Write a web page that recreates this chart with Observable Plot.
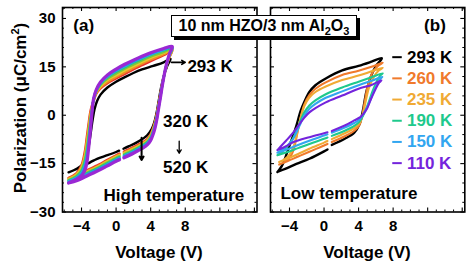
<!DOCTYPE html>
<html><head><meta charset="utf-8">
<script src="https://cdn.jsdelivr.net/npm/d3@7"></script>
<script src="https://cdn.jsdelivr.net/npm/@observablehq/plot@0.6"></script>
<style>
body{margin:0;background:#fff;}
#wrap{position:relative;width:473px;height:267px;overflow:hidden;font-family:"Liberation Sans",Arial,sans-serif;font-weight:bold;color:#000;background:#fff;}
#wrap svg{position:absolute;left:0;top:0;}
.lbl{position:absolute;white-space:nowrap;font-size:17px;line-height:1;transform:translate(-50%,-50%);}
.ylab{position:absolute;white-space:nowrap;font-size:17px;line-height:1;left:20px;top:108px;transform:translate(-50%,-50%) rotate(-90deg);}
.ylab sup{font-size:11px;vertical-align:7px;line-height:0;}
#title{position:absolute;left:171px;top:15px;width:184px;height:20px;border:1px solid #000;background:#fff;box-shadow:3px 3px 0 #000;font-size:16px;line-height:20px;text-align:center;white-space:nowrap;}
#title sub{font-size:11px;vertical-align:-4px;line-height:0;}
</style></head>
<body>
<div id="wrap"></div>
<script>
// ---------- axis values ----------
const xTickLabels = [-4, 0, 4, 8];
const xMajorTicks = [-4, 0, 4, 8, 12, 16];
const yTickLabels = [-30, -15, 0, 15, 30];

// ---------- panel (a): high temperature ----------
const highTemps = [320, 350, 380, 410, 440, 470, 490, 520];
const highColors = ["#e8332b", "#f08a24", "#e6c92a", "#7cc83c", "#22c08c", "#22b2e8", "#3c72e6", "#9a28d4"];
const vLowHigh = [-5.5, -4.5, -3.5, -2, -1, 0, 0.4, 0.65, 0.9, 2, 3, 3.6, 4.0, 4.3, 4.5, 4.7, 4.9, 5.1, 5.4, 5.8, 6.2, 6.5];
const vUpHigh = [6.5, 5.5, 4, 3, 2, 1, 0, -1, -1.8, -2.3, -2.6, -2.8, -3.0, -3.2, -3.4, -3.6, -4.0, -4.6, -5.5];
const low320 = [-19.4,-18.5,-17.2,-15.3,-13.8,-12.4,-11.9,NaN,-11.3,-9.9,-8.5,-7.4,-5.8,-3.8,-2.0,0.2,3.2,6.2,10.5,15.0,18.2,20.1];
const low350 = [-19.6,-18.7,-17.5,-15.6,-14.1,-12.7,-12.2,NaN,-11.6,-10.2,-8.8,-7.7,-6.1,-4.1,-2.3,0.0,3.0,6.0,10.4,15.1,18.4,20.3];
const low380 = [-19.9,-19.0,-17.7,-15.8,-14.3,-12.9,-12.4,NaN,-11.8,-10.4,-9.0,-7.9,-6.4,-4.4,-2.6,-0.3,2.8,5.9,10.4,15.1,18.5,20.4];
const low410 = [-20.1,-19.2,-18.0,-16.1,-14.6,-13.2,-12.7,NaN,-12.1,-10.7,-9.3,-8.2,-6.7,-4.7,-2.9,-0.5,2.6,5.7,10.3,15.2,18.7,20.6];
const low440 = [-20.3,-19.5,-18.2,-16.3,-14.9,-13.5,-13.0,NaN,-12.4,-11.0,-9.5,-8.4,-6.9,-4.9,-3.1,-0.7,2.4,5.5,10.2,15.3,18.8,20.8];
const low470 = [-20.5,-19.7,-18.5,-16.6,-15.2,-13.8,-13.3,NaN,-12.7,-11.3,-9.8,-8.7,-7.2,-5.2,-3.4,-1.0,2.2,5.3,10.1,15.4,19.0,21.0];
const low490 = [-20.8,-20.0,-18.7,-16.8,-15.4,-14.0,-13.5,NaN,-12.9,-11.5,-10.0,-8.9,-7.5,-5.5,-3.7,-1.3,2.0,5.2,10.1,15.4,19.1,21.1];
const low520 = [-21.0,-20.2,-19.0,-17.1,-15.7,-14.3,-13.8,NaN,-13.2,-11.8,-10.3,-9.2,-7.8,-5.8,-4.0,-1.5,1.8,5.0,10.0,15.5,19.3,21.3];
const up320 = [20.1,18.6,16.8,15.5,14.2,12.8,11.4,9.9,8.3,6.6,4.4,3.0,0.8,-3.0,-7.0,-11.0,-15.5,-18.0,-19.4];
const up350 = [20.3,18.9,17.2,16.0,14.7,13.3,11.9,10.3,8.6,6.8,4.5,2.6,-0.1,-4.1,-8.1,-11.9,-16.0,-18.3,-19.6];
const up380 = [20.4,19.3,17.8,16.5,15.2,13.9,12.4,10.9,9.0,7.1,4.7,2.3,-1.0,-5.2,-9.3,-12.7,-16.4,-18.5,-19.9];
const up410 = [20.6,19.6,18.2,17.0,15.7,14.4,12.9,11.3,9.4,7.3,4.8,1.9,-1.9,-6.3,-10.4,-13.6,-16.9,-18.8,-20.1];
const up440 = [20.8,20.1,18.7,17.5,16.3,14.9,13.5,11.8,9.7,7.5,4.9,1.6,-2.8,-7.5,-11.6,-14.4,-17.4,-19.1,-20.3];
const up470 = [21.0,20.3,18.9,17.8,16.6,15.2,13.8,12.0,9.9,7.6,5.0,1.2,-3.7,-8.6,-12.7,-15.3,-17.9,-19.4,-20.5];
const up490 = [21.1,20.5,19.2,18.0,16.8,15.5,14.0,12.3,10.1,7.8,5.1,0.9,-4.6,-9.7,-13.9,-16.1,-18.3,-19.6,-20.8];
const up520 = [21.3,20.7,19.4,18.3,17.1,15.8,14.3,12.5,10.3,7.9,5.2,0.5,-5.5,-10.8,-15.0,-17.0,-18.8,-19.9,-21.0];
const highLows = [low320, low350, low380, low410, low440, low470, low490, low520];
const highUps = [up320, up350, up380, up410, up440, up470, up490, up520];

// 293 K loop in panel (a)
const vLow293a = [-5.5,-4.5,-3.8,-3,-2.2,-1,0,0.35,0.6,0.85,1.5,2.4,3.2,3.6,4.1,4.4,4.65,4.9,5.2,5.5,5.9,6.3];
const low293a = [-17.7,-16.6,-15.6,-14.6,-13.5,-12.4,-11.4,-11.0,NaN,-10.4,-9.6,-8.4,-7.1,-6.2,-4.4,-2.4,0.3,4.0,8.5,12.0,15.2,17.5];
const vUp293a = [6.3,5.5,4.3,3,2,1,0,-1,-1.8,-2.2,-2.5,-2.7,-2.9,-3.1,-3.4,-3.8,-4.5,-5.5];
const up293a = [17.5,16.4,15.3,14.2,13.1,11.8,10.4,8.6,6.4,4.4,1.8,-1.2,-4.8,-8.5,-12.5,-15.0,-16.5,-17.7];

// ---------- panel (b): low temperature, [V, P] pairs ----------
const lowTemps = ["293 K", "260 K", "235 K", "190 K", "150 K", "110 K"];
const lowColors = ["#000000", "#f07a2c", "#f0aa34", "#1ec98c", "#32a6f0", "#7424dc"];
const loop293b = [[-5.4,-17.6],[-4.5,-16.6],[-3.2,-15.1],[-1.7,-13.5],[0,-11.2],[0.4,-10.6],[0.65,NaN],[0.9,-9.2],[2.4,-7.3],[3.5,-5.4],[4.1,-2.8],[4.5,1.5],[4.9,7.3],[5.4,11.8],[6.0,15.2],[6.7,17.7],
  [5.5,16.6],[4,15.3],[2.1,13.9],[0.2,11.4],[-1,9.3],[-1.7,7.2],[-2.3,4],[-2.7,1.4],[-3.2,-3.2],[-3.6,-6.5],[-4,-9.4],[-4.5,-13.3],[-4.9,-15.8],[-5.4,-17.6]];
const loop260b = [[-5.2,-15.3],[-4.2,-14.2],[-3,-12.8],[-1.7,-11.3],[0,-9.4],[0.4,-8.9],[0.65,NaN],[0.9,-8.3],[2.4,-6.5],[3.5,-4.8],[4.1,-3.0],[4.4,-0.5],[4.7,4],[5.1,9.5],[5.6,13.2],[6.2,15.2],[6.8,16.3],
  [5.5,15],[4,13.8],[2.1,12.5],[0.2,10.2],[-1,8.2],[-1.7,6.2],[-2.3,3.2],[-2.6,0.5],[-2.9,-3],[-3.2,-7],[-3.5,-10.5],[-3.9,-12.8],[-4.5,-14.3],[-5.2,-15.3]];
const loop235b = [[-5.2,-14.5],[-4.2,-13.4],[-3,-12],[-1.7,-10.4],[0,-8.5],[0.4,-8],[0.65,NaN],[0.9,-7.4],[2.4,-5.6],[3.5,-4],[4.1,-2.5],[4.5,0.2],[4.8,4],[5.2,8.5],[5.8,12],[6.3,13.8],[6.8,14.7],
  [5.5,13.6],[4,12.3],[2.1,10.9],[0.2,8.9],[-1,7.2],[-1.7,5.5],[-2.3,2.8],[-2.6,0.2],[-2.9,-3],[-3.2,-6.5],[-3.5,-9.5],[-3.9,-11.8],[-4.5,-13.5],[-5.2,-14.5]];
const loop190b = [[-5.4,-12.4],[-4.3,-11.5],[-3,-10.2],[-1.7,-8.9],[0,-7.3],[0.4,-6.9],[0.65,NaN],[0.9,-6.4],[2.4,-4.8],[3.5,-3.3],[4.1,-2.0],[4.6,0.3],[5.1,3.5],[5.6,7.3],[6.1,10.5],[6.5,12.3],[6.8,13],
  [5.5,11.8],[4,10.4],[2.1,8.6],[0.2,6.5],[-1,4.6],[-1.7,3],[-2.3,0.8],[-2.7,-1.5],[-3.1,-4.2],[-3.6,-7.2],[-4.2,-9.5],[-4.8,-11.2],[-5.4,-12.4]];
const loop150b = [[-5.4,-11.6],[-4.3,-10.6],[-3,-9.2],[-1.7,-7.9],[0,-6.3],[0.4,-5.9],[0.65,NaN],[0.9,-5.4],[2.4,-3.8],[3.5,-2.4],[4.1,-1.3],[4.6,0.5],[5.1,3],[5.6,6.3],[6.1,9.4],[6.5,11.2],[6.75,11.9],
  [5.5,10.7],[4,9.3],[2.1,7.4],[0.2,5.4],[-1,3.5],[-1.7,2],[-2.3,-0.2],[-2.7,-2.4],[-3.1,-4.8],[-3.6,-7.4],[-4.2,-9.3],[-4.8,-10.6],[-5.4,-11.6]];
const loop110b = [[-5.4,-10.8],[-4.4,-9.6],[-3.6,-8.4],[-1.7,-6.8],[0,-5.6],[0.4,-5.3],[0.65,NaN],[0.9,-4.9],[2.4,-3.2],[3.5,-1.6],[4.2,-0.6],[4.6,0.6],[5,2.2],[5.4,4.8],[5.8,7.2],[6.3,9.8],[6.65,10.8],
  [5.5,9.4],[4,8.2],[2.1,6.1],[0.2,4.0],[-1,2.2],[-1.7,0.9],[-2.3,-0.8],[-2.86,-2.8],[-3.6,-5.5],[-4.4,-7.9],[-5,-9.6],[-5.4,-10.8]];
const lowLoops = [loop293b, loop260b, loop235b, loop190b, loop150b, loop110b];

// ---------- annotations (data coordinates) ----------
const arrowsA = [
  {x1: 6.4, y1: 16.4, x2: 8.0, y2: 16.4, w: 1.6},
  {x1: 7.3, y1: -8.0, x2: 7.3, y2: -11.8, w: 1.3},
  {x1: 2.95, y1: -7.0, x2: 2.95, y2: -13.9, w: 2}
];
const textsA = [
  {x: -4.95, y: 27.8, t: "(a)", a: "start"},
  {x: 8.25, y: 15.2, t: "293 K", a: "start"},
  {x: 8.05, y: -2.0, t: "320 K", a: "middle"},
  {x: 8.05, y: -16.1, t: "520 K", a: "middle"},
  {x: -1.45, y: -24.9, t: "High temperature", a: "start"}
];
const textsB = [
  {x: 14.1, y: 27.8, t: "(b)", a: "end"},
  {x: -5.05, y: -24.3, t: "Low temperature", a: "start"}
];

// ---------- layout ----------
const W = 473, H = 267;
const xDomain = [-6.2, 16.3], yDomain = [-30, 33.4];
const mTop = 7, mBottom = 55.5;
const font = {fontFamily: "'Liberation Sans', Arial, sans-serif", fontWeight: "bold", fontSize: "15px", background: "transparent", overflow: "visible"};

const xMinor = d3.range(-6, 17).filter(d => d % 4 !== 0);
const yMajor = d3.range(-30, 34, 15);
const yMinor = d3.range(-27, 34, 3).filter(d => d % 15 !== 0);

function frameTicks(innerW, innerH) {
  const f = d => d;
  return [
    Plot.tickY(yMajor, {y: f, insetRight: innerW - 4, strokeWidth: 1.1}),
    Plot.tickY(yMajor, {y: f, insetLeft: innerW - 4, strokeWidth: 1.1}),
    Plot.tickY(yMinor, {y: f, insetRight: innerW - 2, strokeWidth: 1}),
    Plot.tickY(yMinor, {y: f, insetLeft: innerW - 2, strokeWidth: 1}),
    Plot.tickX(xMajorTicks, {x: f, insetTop: innerH - 4, strokeWidth: 1.1}),
    Plot.tickX(xMajorTicks, {x: f, insetBottom: innerH - 4, strokeWidth: 1.1}),
    Plot.tickX(xMinor, {x: f, insetTop: innerH - 2, strokeWidth: 1}),
    Plot.tickX(xMinor, {x: f, insetBottom: innerH - 2, strokeWidth: 1})
  ];
}

function loopRows(vLow, pLow, vUp, pUp) {
  return vLow.map((v, i) => ({V: v, P: pLow[i]})).concat(vUp.slice(1).map((v, i) => ({V: v, P: pUp[i + 1]})));
}

// ---------- panel (a) ----------
const aLeft = 62, aRight = W - 256.5;
const aInnerW = W - aLeft - aRight, innerH = H - mTop - mBottom;
const marksA = [
  ...frameTicks(aInnerW, innerH),
  Plot.line(loopRows(vLow293a, low293a, vUp293a, up293a), {x: "V", y: "P", stroke: "#000", strokeWidth: 2.4, curve: "catmull-rom"}),
  ...highTemps.map((t, k) => Plot.line(loopRows(vLowHigh, highLows[k], vUpHigh, highUps[k]), {
    x: "V", y: "P", stroke: highColors[k], strokeWidth: k === highTemps.length - 1 ? 3.2 : 2.4, curve: "catmull-rom"
  })),
  Plot.arrow(arrowsA, {x1: "x1", y1: "y1", x2: "x2", y2: "y2", stroke: "#000", strokeWidth: "w", headLength: 6}),
  ...textsA.map(d => Plot.text([d], {x: "x", y: "y", text: "t", textAnchor: d.a, fontSize: 17, fontWeight: "bold", fill: "#000"})),
  Plot.frame({stroke: "#000", strokeWidth: 1.6}),
  Plot.axisY(yTickLabels, {anchor: "left", tickSize: 0, tickPadding: 7, label: null, fontSize: 15}),
  Plot.axisX(xTickLabels, {anchor: "bottom", tickSize: 0, tickPadding: 8, label: null, fontSize: 15})
];
const plotA = Plot.plot({
  width: W, height: H,
  marginLeft: aLeft, marginRight: aRight, marginTop: mTop, marginBottom: mBottom,
  x: {domain: xDomain}, y: {domain: yDomain},
  style: font,
  marks: marksA
});

// ---------- panel (b) ----------
const bLeft = 270, bRight = W - 464.3;
const bInnerW = W - bLeft - bRight;
const legendRows = lowTemps.map((t, i) => ({t, c: lowColors[i], y: 18.0 - i * 6.57, x1: 7.9, x2: 9.0, xt: 9.6}));
const marksB = [
  ...frameTicks(bInnerW, innerH),
  ...lowLoops.map((loop, k) => Plot.line(loop, {
    x: d => d[0], y: d => d[1], stroke: lowColors[k], strokeWidth: k === 0 ? 2.4 : 2.1, curve: "catmull-rom"
  })),
  Plot.link(legendRows, {x1: "x1", x2: "x2", y1: "y", y2: "y", stroke: "c", strokeWidth: 2}),
  Plot.text(legendRows, {x: "xt", y: "y", text: "t", fill: "c", textAnchor: "start", fontSize: 17, fontWeight: "bold"}),
  ...textsB.map(d => Plot.text([d], {x: "x", y: "y", text: "t", textAnchor: d.a, fontSize: 17, fontWeight: "bold", fill: "#000"})),
  Plot.frame({stroke: "#000", strokeWidth: 1.6}),
  Plot.axisX(xTickLabels, {anchor: "bottom", tickSize: 0, tickPadding: 8, label: null, fontSize: 15})
];
const plotB = Plot.plot({
  width: W, height: H,
  marginLeft: bLeft, marginRight: bRight, marginTop: mTop, marginBottom: mBottom,
  x: {domain: xDomain}, y: {domain: yDomain, axis: null},
  color: {type: "identity"},
  style: font,
  marks: marksB
});

const wrap = document.getElementById("wrap");
wrap.appendChild(plotA);
wrap.appendChild(plotB);

function addDiv(cls, html, x, y) {
  const d = document.createElement("div");
  d.className = cls; d.innerHTML = html;
  if (x != null) { d.style.left = x + "px"; d.style.top = y + "px"; }
  wrap.appendChild(d);
  return d;
}
addDiv("lbl", "Voltage (V)", 159, 252);
addDiv("lbl", "Voltage (V)", 367, 252);
addDiv("ylab", "Polarization (μC/cm<sup>2</sup>)");
const title = addDiv("", "10 nm HZO/3 nm Al<sub>2</sub>O<sub>3</sub>");
title.id = "title";
</script>
</body></html>
